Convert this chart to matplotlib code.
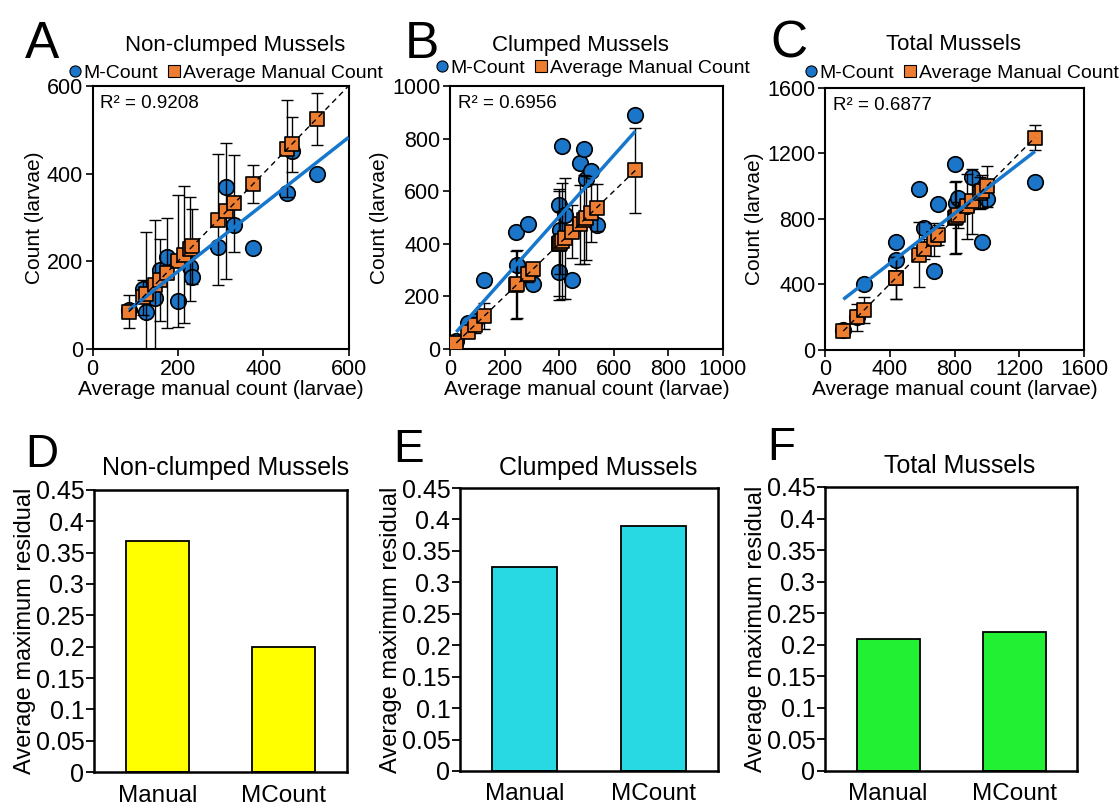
import numpy as np
import matplotlib
matplotlib.use('Agg')
import matplotlib.pyplot as plt
from matplotlib.lines import Line2D
from matplotlib.ticker import FormatStrFormatter

plt.rcParams['font.family'] = ['Liberation Sans', 'DejaVu Sans']

# ---------------- data ----------------
# Non-clumped mussels: average manual count (x), M-Count (y), manual SD
nc_manual = [85, 118, 126, 146, 158, 174, 201, 215, 228, 234, 295, 314, 332, 377, 457, 467, 525]
nc_mcount = [88, 136, 84, 116, 181, 211, 110, 211, 188, 165, 232, 370, 282, 230, 356, 451, 399]
nc_err    = [38, 40, 142, 148, 93, 125, 150, 156, 118, 85, 150, 155, 110, 43, 110, 63, 60]

# Clumped mussels
cl_manual = [23, 65, 92, 125, 243, 246, 284, 303, 398, 400, 404, 410, 421, 446, 475, 492, 497, 516, 538, 679]
cl_mcount = [30, 98, 105, 264, 446, 318, 475, 249, 548, 293, 452, 771, 510, 261, 707, 762, 646, 676, 472, 890]
cl_err    = [10, 20, 30, 50, 130, 130, 30, 25, 210, 200, 120, 220, 230, 100, 150, 170, 160, 110, 90, 160]

# Total mussels
tot_manual = [113, 196, 240, 439, 439, 580, 614, 675, 700, 805, 810, 823, 875, 906, 957, 968, 999, 1297]
tot_mcount = [120, 200, 402, 549, 657, 981, 743, 481, 889, 1134, 899, 926, 880, 1055, 960, 657, 920, 1024]
tot_err    = [20, 80, 80, 130, 130, 200, 60, 100, 60, 220, 220, 80, 200, 200, 100, 100, 125, 78]

scatter_titles = ['Non-clumped Mussels', 'Clumped Mussels', 'Total Mussels']
r2_labels = ['R\u00b2 = 0.9208', 'R\u00b2 = 0.6956', 'R\u00b2 = 0.6877']
scatter_limits = [600, 1000, 1600]
scatter_ticks = [[0, 200, 400, 600], [0, 200, 400, 600, 800, 1000], [0, 400, 800, 1200, 1600]]
series_labels = ['M-Count', 'Average Manual Count']

bar_categories = ['Manual', 'MCount']
nc_resid = [0.368, 0.199]
cl_resid = [0.325, 0.390]
tot_resid = [0.209, 0.221]
bar_colors = ['#FFFF00', '#28D8E2', '#22F032']
bar_titles = ['Non-clumped Mussels', 'Clumped Mussels', 'Total Mussels']
panel_letters = ['A', 'B', 'C', 'D', 'E', 'F']

# ---------------- layout helpers ----------------
W, H = 1120, 810
fig = plt.figure(figsize=(W / 100, H / 100), dpi=100)


def rect(l, t, r, b):
    return [l / W, 1 - b / H, (r - l) / W, (b - t) / H]


def fx(x):
    return x / W


def fy(y):
    return 1 - y / H


blue = '#1B75C9'
orange = '#ED7D31'

scatter_rects = [rect(92.5, 86, 348.5, 349), rect(450, 86, 723, 349), rect(825, 88, 1084, 349.5)]
scatter_data = [(nc_manual, nc_mcount, nc_err), (cl_manual, cl_mcount, cl_err),
                (tot_manual, tot_mcount, tot_err)]
title_pos = [(235, 45), (580, 45), (953, 45)]
legend_pos = [(226, 73), (593, 68), (962, 73)]
letter_pos = [(25, 58), (405, 58), (770, 58)]
extend_to_limit = [True, False, False]

for i in range(3):
    ax = fig.add_axes(scatter_rects[i])
    xs, ms, es = (np.array(a, dtype=float) for a in scatter_data[i])
    lim = scatter_limits[i]
    ax.scatter(xs, ms, s=125, marker='o', color=blue, edgecolor='black', linewidth=1.2, zorder=2)
    ax.errorbar(xs, xs, yerr=es, fmt='none', ecolor='black', elinewidth=1.0, capsize=4,
                capthick=1.0, zorder=3)
    ax.scatter(xs, xs, s=100, marker='s', color=orange, edgecolor='black', linewidth=1.2, zorder=4)
    slope, intercept = np.polyfit(xs, ms, 1)
    xend = lim if extend_to_limit[i] else xs.max()
    xl = np.array([xs.min(), xend])
    ax.plot(xl, slope * xl + intercept, color='#1777CC', lw=2.5, zorder=5, solid_capstyle='butt')
    ax.plot(xl, xl, color='black', lw=1.0, ls=(0, (4, 3)), zorder=5)
    ax.set_xlim(0, lim)
    ax.set_ylim(0, lim)
    ax.set_xticks(scatter_ticks[i])
    ax.set_yticks(scatter_ticks[i])
    ax.tick_params(direction='out', length=5, width=1.2, labelsize=15.5, pad=2, colors='black')
    for sp in ax.spines.values():
        sp.set_linewidth(1.5)
        sp.set_color('black')
    ax.set_xlabel('Average manual count (larvae)', fontsize=15, labelpad=0)
    ax.set_ylabel('Count (larvae)', fontsize=15, labelpad=2)
    ax.text(0.03, 0.965, r2_labels[i], transform=ax.transAxes, ha='left', va='top', fontsize=13.5)
    fig.text(fx(title_pos[i][0]), fy(title_pos[i][1]), scatter_titles[i], ha='center', va='center',
             fontsize=16)
    handles = [Line2D([], [], marker='o', ls='none', markerfacecolor=blue, markeredgecolor='black',
                      markersize=8, markeredgewidth=0.8),
               Line2D([], [], marker='s', ls='none', markerfacecolor=orange, markeredgecolor='black',
                      markersize=8, markeredgewidth=0.8)]
    fig.legend(handles, series_labels, loc='center', bbox_to_anchor=(fx(legend_pos[i][0]), fy(legend_pos[i][1])),
               ncol=2, frameon=False, fontsize=14, handlelength=0.6, handletextpad=0.15,
               columnspacing=0.5, borderpad=0, borderaxespad=0)
    fig.text(fx(letter_pos[i][0]), fy(letter_pos[i][1]), panel_letters[i], ha='left', va='baseline',
             fontsize=37)

bar_rects = [rect(94, 490, 347, 772), rect(460, 488, 718, 771), rect(825, 487, 1077, 771)]
bar_values = [nc_resid, cl_resid, tot_resid]
bar_title_pos = [(226, 468), (598, 468), (960, 466)]
bar_letter_pos = [(25, 467), (393, 462), (767, 460)]

for i in range(3):
    ax = fig.add_axes(bar_rects[i])
    ax.bar(range(len(bar_categories)), bar_values[i], width=0.5, color=bar_colors[i],
           edgecolor='black', linewidth=1.3)
    ax.set_xlim(-0.5, 1.5)
    ax.set_ylim(0, 0.45)
    ax.set_yticks(np.arange(0, 0.451, 0.05))
    ax.yaxis.set_major_formatter(FormatStrFormatter('%g'))
    ax.set_xticks(range(len(bar_categories)))
    ax.set_xticklabels(bar_categories)
    ax.tick_params(axis='y', direction='out', length=6, width=1.3, labelsize=18, pad=1)
    ax.tick_params(axis='x', length=0, labelsize=17.5, pad=9)
    for sp in ax.spines.values():
        sp.set_linewidth(1.8)
        sp.set_color('black')
    ax.set_ylabel('Average maximum residual', fontsize=17, labelpad=0)
    fig.text(fx(bar_title_pos[i][0]), fy(bar_title_pos[i][1]), bar_titles[i], ha='center', va='center',
             fontsize=18)
    fig.text(fx(bar_letter_pos[i][0]), fy(bar_letter_pos[i][1]), panel_letters[i + 3], ha='left',
             va='baseline', fontsize=33)

fig.savefig('out.png', dpi=100, facecolor='white')
